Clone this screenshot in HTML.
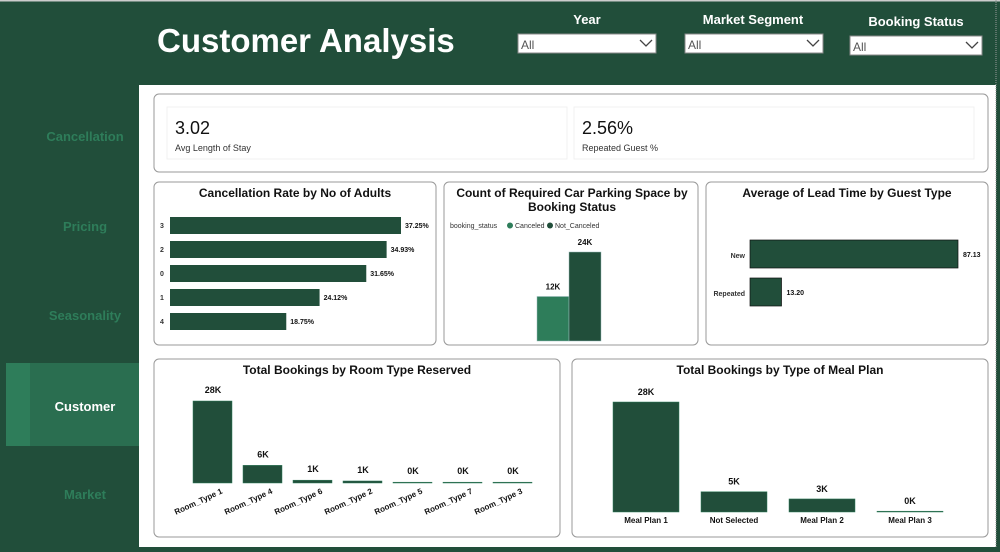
<!DOCTYPE html>
<html><head><meta charset="utf-8"><style>
body{margin:0;width:1000px;height:547px;overflow:hidden;background:#214e3a;font-family:"Liberation Sans",sans-serif}
svg text{font-family:"Liberation Sans",sans-serif}
</style></head><body>
<svg id="s" width="1000" height="547" xmlns="http://www.w3.org/2000/svg">
<rect x="0" y="0" width="1000" height="547" fill="#214e3a"/>
<rect x="0" y="0" width="1000" height="1.5" fill="#ccc"/>
<text x="157" y="52" font-size="33" font-weight="bold" fill="#fff">Customer Analysis</text>
<!-- slicers -->
<g>
<text x="587" y="24" font-size="13" font-weight="bold" fill="#fff" text-anchor="middle">Year</text>
<rect x="518" y="34" width="138" height="19" fill="#fff" stroke="#888"/>
<text x="521" y="49" font-size="12" fill="#555">All</text>
<path d="M640 40 l6 6 l6 -6" stroke="#444" fill="none" stroke-width="1.3"/></g>
<g>
<text x="753" y="24" font-size="13" font-weight="bold" fill="#fff" text-anchor="middle">Market Segment</text>
<rect x="685" y="34" width="138" height="19" fill="#fff" stroke="#888"/>
<text x="688" y="49" font-size="12" fill="#555">All</text>
<path d="M807 40 l6 6 l6 -6" stroke="#444" fill="none" stroke-width="1.3"/></g>
<g>
<text x="916" y="26" font-size="13" font-weight="bold" fill="#fff" text-anchor="middle">Booking Status</text>
<rect x="850" y="36" width="132" height="19" fill="#fff" stroke="#888"/>
<text x="853" y="51" font-size="12" fill="#555">All</text>
<path d="M966 42 l6 6 l6 -6" stroke="#444" fill="none" stroke-width="1.3"/></g>
<!-- nav -->
<g font-size="13" font-weight="bold" text-anchor="middle">
<text x="85" y="141" fill="#2e7d5a">Cancellation</text>
<text x="85" y="231" fill="#2e7d5a">Pricing</text>
<text x="85" y="320" fill="#2e7d5a">Seasonality</text>
<rect x="6" y="363" width="133" height="83" fill="#2e7d5a"/>
<rect x="30" y="363" width="109" height="83" fill="#2a6e50"/>
<text x="85" y="411" fill="#fff">Customer</text>
<text x="85" y="499" fill="#2e7d5a">Market</text>
</g>
<rect x="139" y="85" width="857" height="462" fill="#fff"/>
<line x1="996" y1="0" x2="996" y2="547" stroke="#999" stroke-dasharray="1,1"/>
<!-- KPI -->
<rect x="154" y="94" width="834" height="78" rx="5" fill="#fff" stroke="#999"/>
<rect x="167" y="107" width="400" height="52" fill="#fff" stroke="#f1f1f1"/>
<rect x="574" y="107" width="400" height="52" fill="#fff" stroke="#f1f1f1"/>
<text x="175" y="134" font-size="18" fill="#111">3.02</text>
<text x="175" y="151" font-size="9" fill="#333">Avg Length of Stay</text>
<text x="582" y="134" font-size="18" fill="#111">2.56%</text>
<text x="582" y="151" font-size="9" fill="#333">Repeated Guest %</text>
<!-- cards -->
<g fill="#fff" stroke="#999">
<rect x="154" y="182" width="282" height="163" rx="5"/>
<rect x="444" y="182" width="254" height="163" rx="5"/>
<rect x="706" y="182" width="282" height="163" rx="5"/>
<rect x="154" y="359" width="406" height="178" rx="5"/>
<rect x="572" y="359" width="416" height="178" rx="5"/>
</g>
<g font-size="12" font-weight="bold" fill="#111" text-anchor="middle">
<text x="295" y="197">Cancellation Rate by No of Adults</text>
<text x="572" y="197">Count of Required Car Parking Space by</text>
<text x="572" y="211">Booking Status</text>
<text x="847" y="197">Average of Lead Time by Guest Type</text>
<text x="357" y="374">Total Bookings by Room Type Reserved</text>
<text x="780" y="374">Total Bookings by Type of Meal Plan</text>
</g>
<g font-size="7" fill="#333">
<text x="450" y="228">booking_status</text>
<circle cx="510" cy="225.5" r="3" fill="#2e7d5a"/><text x="515" y="228">Canceled</text>
<circle cx="550" cy="225.5" r="3" fill="#214e3a"/><text x="555" y="228">Not_Canceled</text>
</g>
<g id="charts"></g>
</svg>
<script>
const adultCats=["3","2","0","1","4"];
const adultRates=[37.25,34.93,31.65,24.12,18.75];
const parkCats=["Canceled","Not_Canceled"];
const parkVals=[12,24];
const parkLabels=["12K","24K"];
const guestCats=["New","Repeated"];
const guestLead=[87.13,13.20];
const roomCats=["Room_Type 1","Room_Type 4","Room_Type 6","Room_Type 2","Room_Type 5","Room_Type 7","Room_Type 3"];
const roomVals=[28130,6057,966,692,265,158,7];
const mealCats=["Meal Plan 1","Not Selected","Meal Plan 2","Meal Plan 3"];
const mealVals=[27835,5130,3305,5];

const NS="http://www.w3.org/2000/svg";
const g=document.getElementById('charts');
function el(t,a,txt){const e=document.createElementNS(NS,t);for(const k in a)e.setAttribute(k,a[k]);if(txt!==undefined)e.textContent=txt;g.appendChild(e);return e;}
const fmtK=v=>Math.round(v/1000)+"K";

// adults
const ax=v=>231*v/37.25;
adultCats.forEach((c,i)=>{const y=217+i*24;
 el('text',{x:160,y:y+11,'font-size':7,'font-weight':'bold',fill:'#333'},c);
 const r=el('rect',{x:170,y:y,width:ax(adultRates[i]),height:17,fill:'#214e3a'});
 
 
 el('text',{x:170+ax(adultRates[i])+4,y:y+11,'font-size':7,'font-weight':'bold',fill:'#111'},adultRates[i].toFixed(2)+"%");
});
// parking
const py=v=>89*v/24;
parkVals.forEach((v,i)=>{const x=537+i*32;
 const r=el('rect',{x:x,y:341-py(v),width:32,height:py(v),fill:i?'#214e3a':'#2e7d5a',stroke:'#9bb','stroke-width':0.5});
 
 
 el('text',{x:x+16,y:341-py(v)-7,'font-size':8,'font-weight':'bold','text-anchor':'middle',fill:'#111'},parkLabels[i]);
});
// lead time
const lx=v=>208*v/87.13;
guestCats.forEach((c,i)=>{const y=240+i*38;
 el('text',{x:745,y:y+18,'font-size':7,'font-weight':'bold','text-anchor':'end',fill:'#333'},c);
 const r=el('rect',{x:750,y:y,width:lx(guestLead[i]),height:28,fill:'#214e3a',stroke:'#111','stroke-width':0.7});
 
 
 el('text',{x:750+lx(guestLead[i])+5,y:y+17,'font-size':7,'font-weight':'bold',fill:'#111'},guestLead[i].toFixed(2));
});
// room type
const ry=v=>82*v/28130;
roomCats.forEach((c,i)=>{const x=193+i*50,h=Math.max(ry(roomVals[i]),0.8);
 const r=el('rect',{x:x,y:483-h,width:39,height:h,fill:'#214e3a',stroke:'#2e7d5a','stroke-width':0.5});
 
 
 el('text',{x:x+20,y:483-h-8,'font-size':9,'font-weight':'bold','text-anchor':'middle',fill:'#111'},fmtK(roomVals[i]));
 el('text',{x:x+30,y:493,'font-size':8,'font-weight':'bold','text-anchor':'end',fill:'#111',transform:`rotate(-25 ${x+30} 493)`},c);
});
// meal plan
const my=v=>110*v/27835;
mealCats.forEach((c,i)=>{const x=613+i*88,h=Math.max(my(mealVals[i]),0.8);
 const r=el('rect',{x:x,y:512-h,width:66,height:h,fill:'#214e3a',stroke:'#2e7d5a','stroke-width':0.5});
 
 
 el('text',{x:x+33,y:512-h-7,'font-size':9,'font-weight':'bold','text-anchor':'middle',fill:'#111'},fmtK(mealVals[i]));
 el('text',{x:x+33,y:523,'font-size':8,'font-weight':'bold','text-anchor':'middle',fill:'#111'},c);
});
</script>
</body></html>
